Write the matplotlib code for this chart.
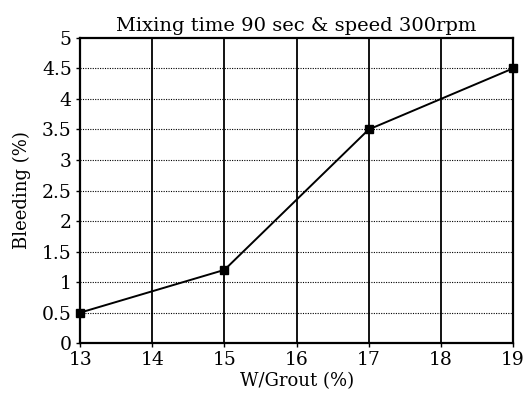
import matplotlib
matplotlib.use("Agg")
import matplotlib.pyplot as plt
import numpy as np

# W/Grout (%) vs Bleeding (%)
w_grout = [13, 15, 17, 19]
bleeding = [0.5, 1.2, 3.5, 4.5]

x_ticks = [13, 14, 15, 16, 17, 18, 19]
y_ticks = [0, 0.5, 1, 1.5, 2, 2.5, 3, 3.5, 4, 4.5, 5]
y_labels = ["0", "0.5", "1", "1.5", "2", "2.5", "3", "3.5", "4", "4.5", "5"]

plt.rcParams['font.family'] = ['DejaVu Serif']

fig = plt.figure(figsize=(5.24, 3.99), dpi=100)
ax = fig.add_axes([0.153, 0.140, 0.826, 0.765])

# vertical solid grid, horizontal dotted grid
for x in x_ticks[1:-1]:
    ax.axvline(x, color='black', lw=1.3, zorder=1)
for y in y_ticks[1:-1]:
    ax.axhline(y, color='black', lw=0.8, ls=(0, (1, 1.2)), zorder=1)

ax.plot(w_grout, bleeding, color='black', lw=1.4, marker='s', ms=6,
        clip_on=False, zorder=3)

ax.set_xlim(13, 19)
ax.set_ylim(0, 5)
ax.set_xticks(x_ticks)
ax.set_yticks(y_ticks)
ax.set_yticklabels(y_labels)
ax.tick_params(direction='out', length=3, width=1, labelsize=13.5, pad=3)

for s in ax.spines.values():
    s.set_linewidth(1.6)

ax.set_title("Mixing time 90 sec & speed 300rpm", fontsize=14, pad=5)
ax.set_xlabel("W/Grout (%)", fontsize=13, labelpad=2)
ax.set_ylabel("Bleeding (%)", fontsize=13, labelpad=8)

fig.savefig("out.png", dpi=100)
